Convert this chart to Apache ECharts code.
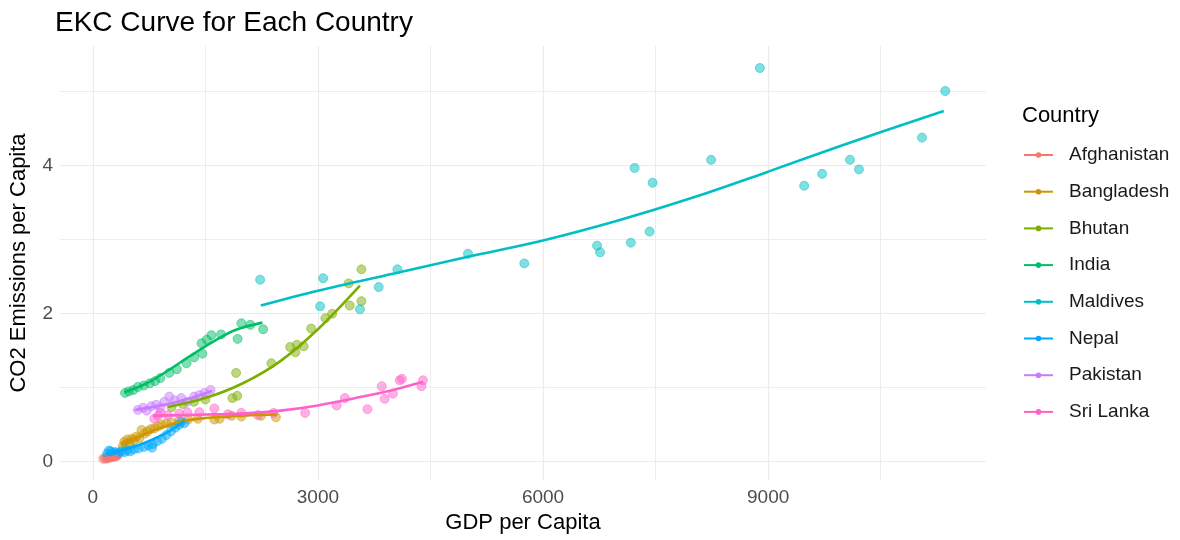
<!DOCTYPE html>
<html>
<head>
<meta charset="utf-8">
<title>EKC Curve for Each Country</title>
<script src="https://cdn.jsdelivr.net/npm/echarts@6/dist/echarts.min.js"></script>
<style>
  html, body { margin: 0; padding: 0; background: #ffffff; }
  #chart { width: 1180px; height: 540px; }
</style>
</head>
<body>
<div id="chart"></div>
<script>
// Country names in legend order
const countries = ['Afghanistan', 'Bangladesh', 'Bhutan', 'India', 'Maldives', 'Nepal', 'Pakistan', 'Sri Lanka'];

// Observed [GDP per capita, CO2 per capita] pairs
const afghanistanPoints = [[140,0.04],[165,0.05],[180,0.04],[195,0.06],[210,0.05],[225,0.06],[240,0.07],[255,0.06],[270,0.07],[285,0.08],[300,0.07],[320,0.08],[335,0.09]];
const bangladeshPoints = [[400,0.21],[420,0.27],[440,0.24],[460,0.30],[490,0.26],[520,0.31],[550,0.29],[580,0.34],[620,0.32],[650,0.43],[690,0.38],[730,0.41],[770,0.44],[820,0.45],[870,0.48],[920,0.50],[980,0.52],[1050,0.53],[1150,0.55],[1270,0.57],[1400,0.58],[1620,0.57],[1690,0.58],[1850,0.62],[1980,0.61],[2240,0.62],[2440,0.60]];
const bhutanPoints = [[1050,0.74],[1200,0.78],[1350,0.81],[1500,0.84],[1860,0.86],[1925,0.89],[1910,1.20],[2380,1.33],[2630,1.55],[2720,1.58],[2700,1.48],[2810,1.56],[2910,1.80],[3100,1.94],[3190,2.00],[3410,2.41],[3425,2.11],[3580,2.17],[3580,2.60]];
const indiaPoints = [[430,0.93],[480,0.95],[540,0.97],[600,1.01],[680,1.03],[760,1.06],[830,1.09],[900,1.13],[1020,1.20],[1120,1.25],[1250,1.33],[1350,1.41],[1460,1.46],[1450,1.60],[1520,1.65],[1580,1.71],[1710,1.72],[1930,1.66],[1980,1.87],[2100,1.85],[2270,1.79]];
const maldivesPoints = [[2230,2.46],[3030,2.10],[3070,2.48],[3560,2.06],[3810,2.36],[4060,2.60],[5000,2.81],[5750,2.68],[6720,2.92],[6760,2.83],[7170,2.96],[7220,3.97],[7420,3.11],[7460,3.77],[8240,4.08],[8890,5.32],[9480,3.73],[9720,3.89],[10090,4.08],[10210,3.95],[11050,4.38],[11360,5.01]];
const nepalPoints = [[190,0.11],[215,0.15],[240,0.14],[270,0.12],[300,0.13],[340,0.12],[380,0.14],[420,0.13],[460,0.15],[500,0.14],[550,0.17],[610,0.18],[680,0.20],[740,0.22],[790,0.19],[800,0.24],[860,0.28],[920,0.31],[980,0.36],[1040,0.41],[1100,0.46],[1150,0.50],[1180,0.54],[1220,0.52]];
const pakistanPoints = [[600,0.70],[670,0.73],[720,0.69],[780,0.75],[845,0.77],[900,0.73],[955,0.81],[1020,0.88],[1090,0.83],[1180,0.86],[1260,0.81],[1350,0.88],[1420,0.90],[1490,0.93],[1570,0.97]];
const sriLankaPoints = [[820,0.58],[870,0.62],[900,0.66],[1000,0.63],[1150,0.65],[1260,0.67],[1420,0.67],[1620,0.72],[1800,0.64],[1980,0.66],[2200,0.63],[2410,0.66],[2830,0.66],[3250,0.76],[3360,0.86],[3660,0.71],[3850,1.02],[3890,0.85],[4000,0.92],[4090,1.10],[4120,1.12],[4380,1.02],[4400,1.10]];

// Fitted curve values per country
const afghanistanFit = [[140,0.04],[240,0.06],[335,0.08]];
const bangladeshFit = [[390,0.23],[600,0.33],[800,0.42],[1000,0.49],[1200,0.55],[1500,0.59],[1800,0.61],[2100,0.63],[2450,0.64]];
const bhutanFit = [[1000,0.74],[1500,0.86],[2000,1.06],[2500,1.36],[3000,1.79],[3560,2.38]];
const indiaFit = [[420,0.94],[700,1.05],[1000,1.23],[1300,1.43],[1600,1.62],[1900,1.78],[2260,1.88]];
const maldivesFit = [[2240,2.11],[3000,2.31],[4000,2.54],[5000,2.77],[6000,2.99],[7000,3.26],[8000,3.57],[9000,3.92],[10000,4.28],[11340,4.74]];
const nepalFit = [[190,0.12],[400,0.16],[600,0.22],[800,0.30],[1000,0.40],[1220,0.55]];
const pakistanFit = [[560,0.70],[800,0.74],[1000,0.78],[1200,0.83],[1400,0.89],[1590,0.96]];
const sriLankaFit = [[800,0.62],[1200,0.63],[1600,0.64],[2000,0.65],[2500,0.69],[3000,0.76],[3500,0.86],[4000,0.97],[4400,1.08]];

// Axis ranges and tick steps
const xRange = [-437, 11903];
const yRange = [-0.247, 5.618];
const xStep = 3000;
const yStep = 2;

const pointSets = [afghanistanPoints, bangladeshPoints, bhutanPoints, indiaPoints, maldivesPoints, nepalPoints, pakistanPoints, sriLankaPoints];
const fitSets = [afghanistanFit, bangladeshFit, bhutanFit, indiaFit, maldivesFit, nepalFit, pakistanFit, sriLankaFit];
const palette = ['#F8766D', '#CD9600', '#7CAE00', '#00BE67', '#00BFC4', '#00A9FF', '#C77CFF', '#FF61CC'];

const FONT = '"Liberation Sans", Arial, sans-serif';

// Fit lines come first so the legend keys show a line with a dot
const lineSeries = countries.map((name, i) => ({
  name: name,
  type: 'line',
  data: fitSets[i],
  smooth: 0.35,
  showSymbol: false,
  symbol: 'circle',
  symbolSize: 6,
  z: 4,
  silent: true,
  itemStyle: { color: palette[i] },
  lineStyle: { color: palette[i], width: 2.6 }
}));

const scatterSeries = countries.map((name, i) => ({
  name: name,
  type: 'scatter',
  data: pointSets[i],
  symbol: 'circle',
  symbolSize: 9,
  z: 3,
  silent: true,
  itemStyle: { color: palette[i], opacity: 0.5, borderColor: palette[i], borderWidth: 1 }
}));

const chart = echarts.init(document.getElementById('chart'), null, { renderer: 'canvas' });

chart.setOption({
  animation: false,
  backgroundColor: '#ffffff',
  title: [
    {
      text: 'EKC Curve for Each Country',
      left: 50,
      top: 4,
      textStyle: { fontFamily: FONT, fontSize: 28, fontWeight: 'normal', color: '#000000' }
    },
    {
      text: 'Country',
      left: 1017,
      top: 100,
      textStyle: { fontFamily: FONT, fontSize: 22, fontWeight: 'normal', color: '#000000' }
    }
  ],
  legend: {
    data: countries,
    orient: 'vertical',
    left: 1018,
    top: 140,
    itemWidth: 29,
    itemHeight: 7,
    itemGap: 16.7,
    selectedMode: false,
    textStyle: { fontFamily: FONT, fontSize: 19, color: '#1a1a1a', lineHeight: 20, padding: [0, 0, 0, 11] }
  },
  grid: { left: 55, right: 194, top: 46, bottom: 60, containLabel: false },
  xAxis: {
    type: 'value',
    min: xRange[0],
    max: xRange[1],
    minInterval: xStep,
    maxInterval: xStep,
    name: 'GDP per Capita',
    nameLocation: 'middle',
    nameGap: 32,
    nameTextStyle: { fontFamily: FONT, fontSize: 22, color: '#000000' },
    axisLine: { show: false },
    axisTick: { show: false },
    axisLabel: {
      fontFamily: FONT, fontSize: 19, color: '#4d4d4d', margin: 8,
      showMinLabel: false, showMaxLabel: false,
      formatter: (v) => String(v)
    },
    splitLine: { show: true, showMinLine: false, showMaxLine: false, lineStyle: { color: '#ebebeb', width: 1.2 } },
    minorTick: { show: false, splitNumber: 2 },
    minorSplitLine: { show: true, lineStyle: { color: '#ededed', width: 1 } }
  },
  yAxis: {
    type: 'value',
    min: yRange[0],
    max: yRange[1],
    minInterval: yStep,
    maxInterval: yStep,
    name: 'CO2 Emissions per Capita',
    nameLocation: 'middle',
    nameGap: 30,
    nameTextStyle: { fontFamily: FONT, fontSize: 22, color: '#000000' },
    axisLine: { show: false },
    axisTick: { show: false },
    axisLabel: {
      fontFamily: FONT, fontSize: 19, color: '#4d4d4d', margin: 7,
      showMinLabel: false, showMaxLabel: false,
      formatter: (v) => String(v)
    },
    splitLine: { show: true, showMinLine: false, showMaxLine: false, lineStyle: { color: '#ebebeb', width: 1.2 } },
    minorTick: { show: false, splitNumber: 2 },
    minorSplitLine: { show: true, lineStyle: { color: '#ededed', width: 1 } }
  },
  series: lineSeries.concat(scatterSeries)
});
</script>
</body>
</html>
